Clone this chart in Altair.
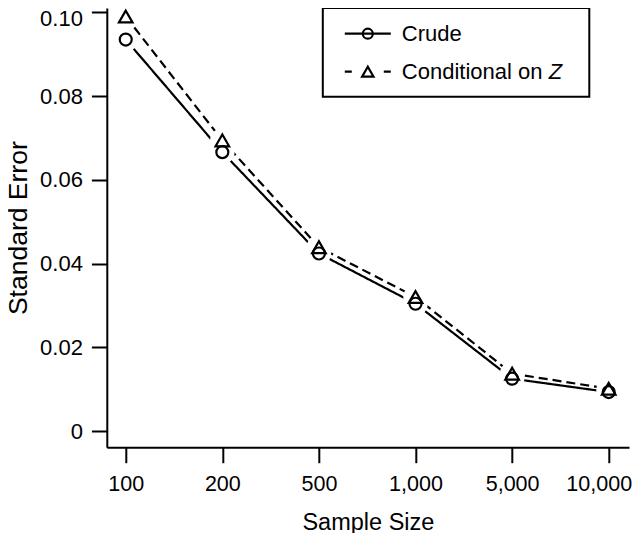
import altair as alt
import pandas as pd

# ---- data ----
sample_sizes = ["100", "200", "500", "1,000", "5,000", "10,000"]
crude = [0.0935, 0.0666, 0.0424, 0.0304, 0.0125, 0.0093]
conditional = [0.0990, 0.0694, 0.0439, 0.0320, 0.0137, 0.0101]
series_names = ["Crude", "Conditional on Z"]
y_ticks = [0, 0.02, 0.04, 0.06, 0.08, 0.10]

rows = []
for i, s in enumerate(sample_sizes):
    rows.append({"idx": i, "size": s, "value": crude[i], "series": series_names[0]})
    rows.append({"idx": i, "size": s, "value": conditional[i], "series": series_names[1]})
df = pd.DataFrame(rows)

FONT = "Liberation Sans"
label_array = "[" + ",".join("'" + s + "'" for s in sample_sizes) + "]"
last_idx = len(sample_sizes) - 1

x_enc = alt.X(
    "idx:Q",
    scale=alt.Scale(domain=[-0.196, 5.210], nice=False, zero=False),
    axis=alt.Axis(
        title="Sample Size",
        values=list(range(len(sample_sizes))),
        labelExpr=label_array + "[datum.value]",
        labelFontSize=21.5,
        labelPadding=11,
        labelOffset={"condition": {"test": f"datum.value == {last_idx}", "value": -10}, "value": 0},
        titleFontSize=23.5,
        titleBaseline="alphabetic",
        titleY=81.7,
    ),
)
y_enc = alt.Y(
    "value:Q",
    scale=alt.Scale(domain=[-0.00389, 0.10103], nice=False, zero=False),
    axis=alt.Axis(
        title="Standard Error",
        values=y_ticks,
        labelExpr="datum.value == 0 ? '0' : format(datum.value, '.2f')",
        labelFontSize=22,
        labelPadding=9,
        labelFlush=6,
        labelFlushOffset=3.5,
        titleFontSize=26.5,
        titleBaseline="alphabetic",
        titleX=-80,
    ),
)

base = alt.Chart(df)

lines = base.mark_line(color="black", strokeWidth=2.2).encode(
    x=x_enc,
    y=y_enc,
    strokeDash=alt.StrokeDash(
        "series:N",
        scale=alt.Scale(domain=series_names, range=[[1, 0], [9, 5]]),
        legend=None,
    ),
    detail="series:N",
)

halos = base.mark_point(filled=True, fill="white", strokeOpacity=0, opacity=1, size=600, shape="circle").encode(
    x=x_enc, y=y_enc
)

markers = base.mark_point(filled=False, color="black", strokeWidth=2.2, opacity=1).encode(
    x=x_enc,
    y=y_enc,
    shape=alt.Shape(
        "series:N",
        scale=alt.Scale(domain=series_names, range=["circle", "triangle-up"]),
        legend=None,
    ),
    size=alt.Size(
        "series:N",
        scale=alt.Scale(domain=series_names, range=[144, 185]),
        legend=None,
    ),
)

# ---- hand-made legend (box, line keys, markers, labels) ----
one = pd.DataFrame({"k": [0]})
legend_box = alt.Chart(one).mark_rect(fill="white", stroke="black", strokeWidth=2).encode(
    x=alt.value(216), x2=alt.value(482.5), y=alt.value(0), y2=alt.value(88.7)
)
key_solid = alt.Chart(one).mark_rule(color="black", strokeWidth=2.2).encode(
    x=alt.value(238), x2=alt.value(284), y=alt.value(25.7)
)
key_dash = alt.Chart(one).mark_rule(color="black", strokeWidth=2.2, strokeDash=[7, 32]).encode(
    x=alt.value(238), x2=alt.value(284), y=alt.value(63.7)
)
key_circle = alt.Chart(one).mark_point(
    filled=False, color="black", strokeWidth=2.2, opacity=1, shape="circle", size=100
).encode(x=alt.value(261), y=alt.value(25.7))
key_tri = alt.Chart(one).mark_point(
    filled=False, color="black", strokeWidth=2.2, opacity=1, shape="triangle-up", size=130
).encode(x=alt.value(261), y=alt.value(63.7))
txt_crude = alt.Chart(one).mark_text(
    align="left", baseline="middle", font=FONT, fontSize=22, color="black"
).encode(x=alt.value(295), y=alt.value(25.7), text=alt.value("Crude"))
txt_cond = alt.Chart(one).mark_text(
    align="left", baseline="middle", font=FONT, fontSize=22, color="black"
).encode(x=alt.value(295), y=alt.value(63.7), text=alt.value("Conditional on "))
txt_z = alt.Chart(one).mark_text(
    align="left", baseline="middle", font=FONT, fontSize=22, fontStyle="italic", color="black"
).encode(x=alt.value(442), y=alt.value(63.7), text=alt.value("Z"))

chart = (
    alt.layer(
        lines, halos, markers,
        legend_box, key_solid, key_dash, key_circle, key_tri, txt_crude, txt_cond, txt_z,
    )
    .properties(
        width=522.2,
        height=439.3,
        autosize=alt.AutoSizeParams(type="none"),
        padding={"left": 98.8, "top": 0, "right": 3, "bottom": 85.7},
    )
    .configure_view(stroke=None)
    .configure_axis(
        grid=False,
        domainColor="black",
        domainWidth=2,
        tickColor="black",
        tickWidth=2,
        tickSize=15.4,
        labelFont=FONT,
        labelColor="black",
        titleFont=FONT,
        titleFontWeight="normal",
        titleColor="black",
    )
)

chart.save("out.html", embed_options={"renderer": "svg", "actions": False})
